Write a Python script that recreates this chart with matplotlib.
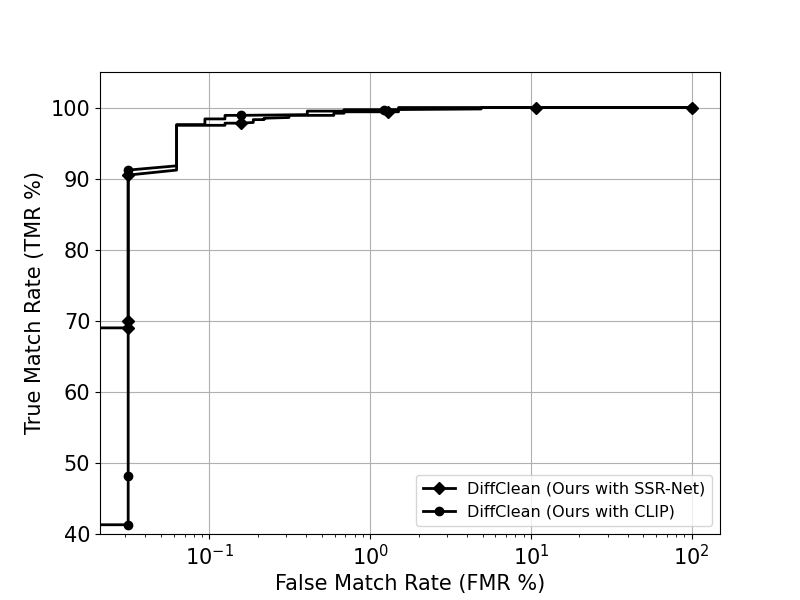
import matplotlib
matplotlib.use('Agg')
import matplotlib.pyplot as plt

# ROC points (FMR %, TMR %)
ssr_fmr = [0, 0.03125, 0.03125, 0.03125, 0.0625, 0.0625, 0.125, 0.125, 0.15625,
           0.1875, 0.1875, 0.21875, 0.21875, 0.3125, 0.3125, 0.59375, 0.59375,
           0.6875, 0.6875, 1.29, 1.5, 1.5, 10.8, 100]
ssr_tmr = [69.0, 69.0, 70.0, 90.5, 91.2, 97.5, 97.5, 97.8, 97.8,
           97.9, 98.3, 98.3, 98.5, 98.6, 98.9, 98.9, 99.2,
           99.2, 99.4, 99.4, 99.4, 100.0, 100.0, 100.0]
ssr_marks = [1, 2, 3, 8, 19, 22, 23]

clip_fmr = [0, 0.03125, 0.03125, 0.03125, 0.0625, 0.0625, 0.09375, 0.09375,
            0.125, 0.125, 0.15625, 0.40625, 0.40625, 0.6875, 0.6875, 1.22,
            4.9, 4.9, 100]
clip_tmr = [41.3, 41.3, 48.2, 91.2, 91.8, 97.6, 97.6, 98.4,
            98.4, 98.9, 98.9, 99.0, 99.5, 99.5, 99.7, 99.7,
            99.8, 100.0, 100.0]
clip_marks = [1, 2, 3, 10, 15, 18]

fig, ax = plt.subplots(figsize=(8, 6), dpi=100)

ax.plot(ssr_fmr, ssr_tmr, color='black', linewidth=2, marker='D',
        markevery=ssr_marks, label='DiffClean (Ours with SSR-Net)')
ax.plot(clip_fmr, clip_tmr, color='black', linewidth=2, marker='o',
        markevery=clip_marks, label='DiffClean (Ours with CLIP)')

ax.set_xscale('log')
ax.set_ylim(40, 105)
ax.set_xlabel('False Match Rate (FMR %)', fontsize=15)
ax.set_ylabel('True Match Rate (TMR %)', fontsize=15)
ax.tick_params(axis='both', which='major', labelsize=15)
ax.grid(True)
ax.legend(loc='lower right', fontsize=11.5)

plt.savefig('out.png')
